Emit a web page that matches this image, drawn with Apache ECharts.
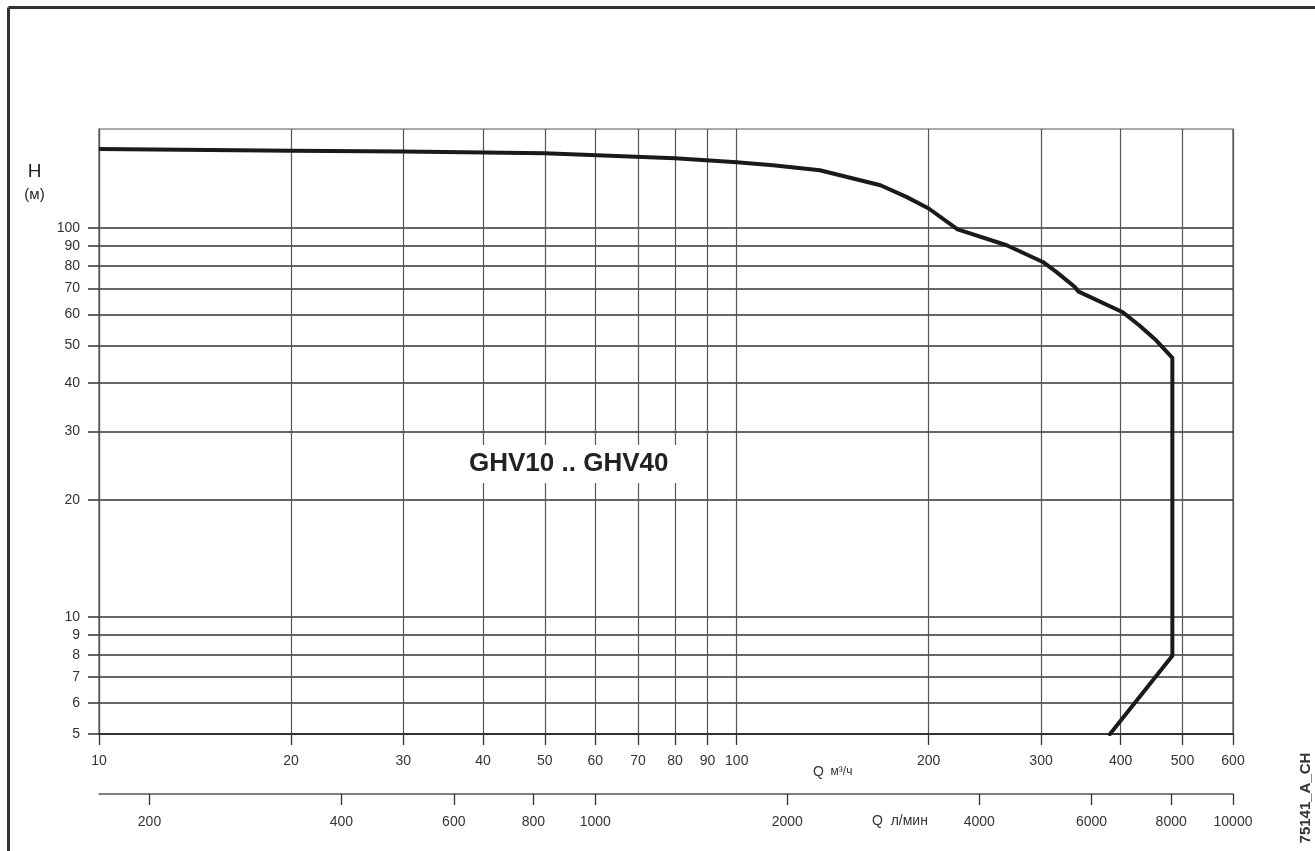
<!DOCTYPE html>
<html>
<head>
<meta charset="utf-8">
<script src="https://cdn.jsdelivr.net/npm/echarts@6/dist/echarts.min.js"></script>
<style>
  html, body { margin: 0; padding: 0; background: #fff; }
  #chart { width: 1315px; height: 851px; }
</style>
</head>
<body>
<div id="chart"></div>
<script>
// подача Q (м3/ч) и напор H (м)
var flowM3h = [10, 20, 30, 50, 80, 100, 114, 135, 168, 184.5, 200, 222, 265, 302, 317, 339, 343, 403, 428, 455, 482, 482, 383];
var headM = [160, 158.3, 157.5, 156, 151.4, 147.9, 145.3, 141, 129, 120.4, 112.4, 99.3, 90.4, 81.9, 77.2, 70.6, 68.8, 60.8, 56.2, 51.4, 46.4, 7.95, 4.95];

var xTicksM3h = [10, 20, 30, 40, 50, 60, 70, 80, 90, 100, 200, 300, 400, 500, 600];
var xTicksLmin = [200, 400, 600, 800, 1000, 2000, 4000, 6000, 8000, 10000];
var yTicks = [5, 6, 7, 8, 9, 10, 20, 30, 40, 50, 60, 70, 80, 90, 100];

var fontFam = '"Liberation Sans", Arial, sans-serif';

var curve = [];
for (var i = 0; i < flowM3h.length; i++) {
    curve.push([flowM3h[i], headM[i]]);
}

function plainNum(v) {
    return String(Math.round(v));   // без разделителей тысяч
}

var myChart = echarts.init(document.getElementById('chart'));
myChart.setOption({
    backgroundColor: '#fff',
    animation: false,
    title: {
        text: 'GHV10 .. GHV40',
        left: 457,
        top: 445,
        padding: [6, 12],
        backgroundColor: '#fff',
        textStyle: {fontSize: 26, fontWeight: 'bold', color: '#222', fontFamily: fontFam}
    },
    grid: {
        left: 99,
        right: 82,
        top: 129,
        bottom: 117,
        show: true,
        borderColor: '#555',
        borderWidth: 1.2,
        outerBoundsMode: 'none'
    },
    xAxis: [
        {
            type: 'log',
            logBase: 10,
            min: 10,
            max: 600,
            position: 'bottom',
            axisLine: {show: true, lineStyle: {color: '#333', width: 2}},
            axisTick: {show: true, length: 11, customValues: xTicksM3h, lineStyle: {color: '#333', width: 1.3}},
            axisLabel: {customValues: xTicksM3h, formatter: plainNum, margin: 20, fontSize: 14, color: '#333', fontFamily: fontFam},
            splitLine: {show: true, lineStyle: {color: '#555', width: 1.2}}
        },
        {
            type: 'log',
            logBase: 10,
            min: 1000 / 6,
            max: 10000,
            position: 'bottom',
            offset: 60,
            axisLine: {show: true, lineStyle: {color: '#555', width: 1.5}},
            axisTick: {show: true, length: 11, customValues: xTicksLmin, lineStyle: {color: '#333', width: 1.3}},
            axisLabel: {customValues: xTicksLmin, formatter: plainNum, margin: 21, fontSize: 14, color: '#333', fontFamily: fontFam},
            splitLine: {show: false}
        }
    ],
    yAxis: [
        {
            type: 'log',
            logBase: 10,
            min: 5,
            max: 180,
            axisLine: {show: true, lineStyle: {color: '#555', width: 1.2}},
            axisTick: {show: true, length: 11, customValues: yTicks, lineStyle: {color: '#333', width: 1.5}},
            axisLabel: {customValues: yTicks, formatter: plainNum, margin: 19, fontSize: 14, color: '#333', fontFamily: fontFam},
            splitLine: {show: true, lineStyle: {color: '#333', width: 1.6}}
        }
    ],
    graphic: [
        {type: 'line', shape: {x1: 8.5, y1: 7.5, x2: 1315, y2: 7.5}, style: {stroke: '#333', lineWidth: 3}},
        {type: 'line', shape: {x1: 8.5, y1: 7.5, x2: 8.5, y2: 851}, style: {stroke: '#333', lineWidth: 3}},
        {type: 'text', x: 34.5, y: 171.5, style: {text: 'H', fontSize: 19, fill: '#222', fontFamily: fontFam, align: 'center', verticalAlign: 'middle'}},
        {type: 'text', x: 34.5, y: 195, style: {text: '(м)', fontSize: 15, fill: '#222', fontFamily: fontFam, align: 'center', verticalAlign: 'middle'}},
        {type: 'text', x: 813, y: 772, style: {
            text: '{q|Q}  {u|м³/ч}', verticalAlign: 'middle',
            rich: {q: {fontSize: 14, fill: '#333', fontFamily: fontFam}, u: {fontSize: 12, fill: '#333', fontFamily: fontFam}}
        }},
        {type: 'text', x: 872, y: 821, style: {
            text: 'Q  л/мин', verticalAlign: 'middle', fontSize: 14, fill: '#333', fontFamily: fontFam
        }},
        {type: 'text', x: 1306, y: 798, rotation: Math.PI / 2, style: {
            text: '75141_A_CH', align: 'center', verticalAlign: 'middle', fontSize: 15, fontWeight: 'bold', fill: '#333', fontFamily: fontFam
        }}
    ],
    series: [
        {
            name: 'GHV10 .. GHV40',
            type: 'line',
            xAxisIndex: 0,
            yAxisIndex: 0,
            data: curve,
            showSymbol: false,
            smooth: false,
            lineStyle: {color: '#1a1a1a', width: 4, join: 'round'}
        }
    ]
});
</script>
</body>
</html>
